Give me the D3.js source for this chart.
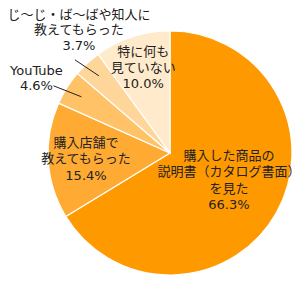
<!DOCTYPE html>
<html><head><meta charset="utf-8">
<script src="https://cdn.jsdelivr.net/npm/d3@7/dist/d3.min.js"></script>
<style>
html,body{margin:0;padding:0;background:#fff;}
svg{display:block;}
text{font-family:"DejaVu Sans","Noto Sans CJK JP",sans-serif;font-size:13px;fill:#222;}
</style></head><body>
<svg id="c" width="303" height="281"></svg>
<script>
const categories = ["購入した商品の説明書（カタログ書面）を見た","購入店舗で教えてもらった","YouTube","じ〜じ・ば〜ばや知人に教えてもらった","特に何も見ていない"];
const values = [66.3, 15.4, 4.6, 3.7, 10.0];
const labelLines = [
  ["購入した商品の","説明書（カタログ書面）","を見た","66.3%"],
  ["購入店舗で","教えてもらった","15.4%"],
  ["YouTube","4.6%"],
  ["じ〜じ・ば〜ばや知人に","教えてもらった","3.7%"],
  ["特に何も","見ていない","10.0%"]
];
const colors = ["#ff9900","#ffaa33","#ffc266","#ffd699","#ffebcc"];

const W=303,H=281,cx=170,cy=153,R=122;
// label layout: inside labels placed at radius factor f (+dx,dy); outside labels use leader lines
const layout = [
  {f:0.53, dx:2.6, dy:-4.7, lh:16.5},
  {f:0.69, dx:0, dy:0.5, lh:16.5},
  {f:0.86, out:true, ldx:-28, ldy:-11, bdx:-17, bdy:-8, lh:15},
  {f:0.86, out:true, ldx:-24, ldy:-16, bdx:4, bdy:-30, lh:15.5},
  {f:0.71, dx:0, dy:-3, lh:16}
];

const svg=d3.select("#c");
const g=svg.append("g").attr("transform",`translate(${cx},${cy})`);
const pie=d3.pie().sort(null).value(d=>d)(values);
const arc=d3.arc().innerRadius(0).outerRadius(R);
const color=d3.scaleOrdinal().domain(d3.range(values.length)).range(colors);

g.selectAll("path.s").data(pie).join("path").attr("class","s")
  .attr("d",arc).attr("fill",(d,i)=>color(i)).attr("stroke","#fff").attr("stroke-width",1.2);

pie.forEach((d,i)=>{
  const L=layout[i];
  const a=(d.startAngle+d.endAngle)/2;
  const px=Math.sin(a)*R*L.f, py=-Math.cos(a)*R*L.f;
  let bx,by;
  if(L.out){
    const ex=px+L.ldx, ey=py+L.ldy;
    g.append("line").attr("x1",px).attr("y1",py).attr("x2",ex).attr("y2",ey)
      .attr("stroke","#222").attr("stroke-width",1);
    bx=ex+L.bdx; by=ey+L.bdy;
  } else { bx=px+L.dx; by=py+L.dy; }
  const lines=labelLines[i], n=lines.length;
  const t=g.append("text").attr("text-anchor","middle");
  lines.forEach((s,k)=>{
    t.append("tspan").attr("x",bx).attr("y",by-(n-1)*L.lh/2+k*L.lh+4.5).text(s);
  });
});
</script></body></html>
